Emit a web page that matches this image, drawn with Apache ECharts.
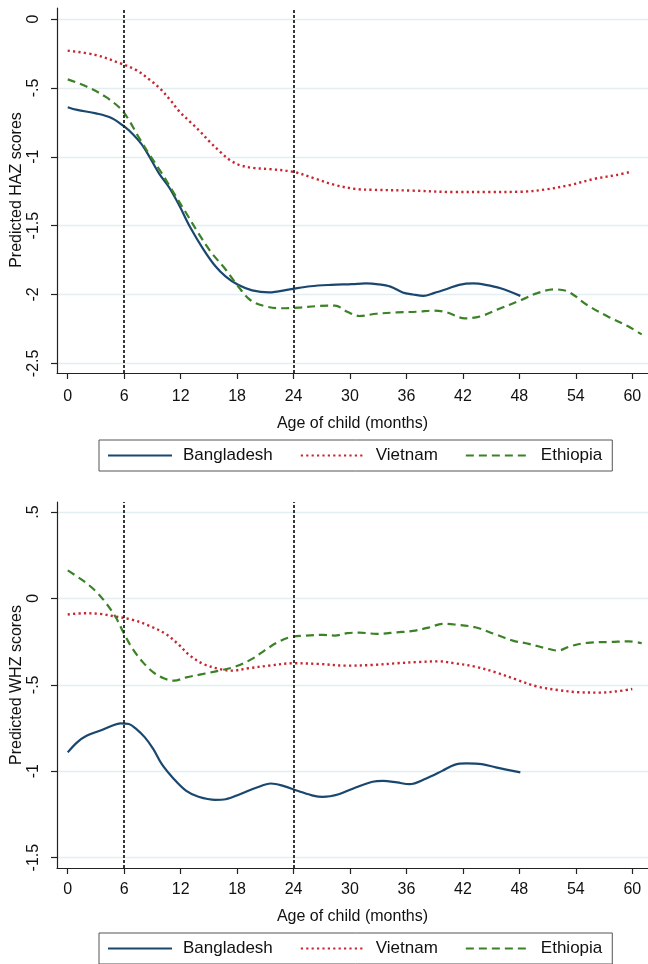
<!DOCTYPE html>
<html>
<head>
<meta charset="utf-8">
<script src="https://cdn.jsdelivr.net/npm/echarts@6/dist/echarts.min.js"></script>
<style>
html,body{margin:0;padding:0;background:#fff;}
#c{width:648px;height:964px;}
</style>
</head>
<body>
<div id="c"></div>
<script>
// ---- data ----
const xTicks = [0, 6, 12, 18, 24, 30, 36, 42, 48, 54, 60];
const hazTicks = [0, -0.5, -1, -1.5, -2, -2.5];
const whzTicks = [0.5, 0, -0.5, -1, -1.5];
const refLines = [6, 24];
const countries = ['Bangladesh', 'Vietnam', 'Ethiopia'];
const yTitles = ['Predicted HAZ scores', 'Predicted WHZ scores'];
const xTitle = 'Age of child (months)';

const hazBangladeshAge = [0,1,3,4.7,6,6.9,7.8,8.6,9.7,10.8,11.9,13,14.4,15.7,16.8,18.1,19.6,21.4,23.6,25.8,28,30.2,31.7,33,34.3,35.6,36.7,37.8,38.9,40.3,41.6,43.1,44.4,46,48.1];
const hazBangladesh = [-0.64,-0.66,-0.685,-0.72,-0.78,-0.835,-0.905,-0.99,-1.12,-1.225,-1.36,-1.51,-1.67,-1.795,-1.87,-1.93,-1.97,-1.985,-1.963,-1.94,-1.93,-1.925,-1.92,-1.926,-1.943,-1.985,-2.0,-2.01,-1.99,-1.96,-1.93,-1.92,-1.93,-1.955,-2.01];

const hazVietnamAge = [0,2.9,5.6,7.3,8.75,9.8,10.9,11.9,13,14.1,15.1,16.2,17.25,18.3,19.7,21.5,24,26.2,28.4,30.6,32.4,36.7,41.1,44.6,48.2,50.8,53.4,56,58.3,59.8];
const hazVietnam = [-0.23,-0.26,-0.322,-0.371,-0.443,-0.504,-0.589,-0.674,-0.746,-0.819,-0.892,-0.964,-1.025,-1.061,-1.081,-1.09,-1.11,-1.157,-1.205,-1.234,-1.24,-1.246,-1.256,-1.256,-1.254,-1.237,-1.205,-1.16,-1.133,-1.11];

const hazEthiopiaAge = [0,2,4,5.6,6.5,7.3,8.6,10,11.3,12.6,13.9,15.2,16.8,18.1,19.4,20.9,22.7,24.5,26.6,28.4,29.7,31,32.8,35,37.2,38.9,40.3,42.2,43.8,46,48.2,49.9,51.7,53.2,55.2,57.4,59.6,61];
const hazEthiopia = [-0.438,-0.49,-0.564,-0.65,-0.733,-0.83,-0.975,-1.12,-1.266,-1.41,-1.556,-1.69,-1.82,-1.94,-2.04,-2.084,-2.1,-2.095,-2.084,-2.081,-2.125,-2.156,-2.14,-2.13,-2.125,-2.117,-2.13,-2.173,-2.16,-2.1,-2.04,-1.99,-1.963,-1.98,-2.076,-2.16,-2.233,-2.29];

const whzBangladeshAge = [0,1,2,3.4,4.7,5.6,6.5,7.3,8.2,9.1,10,11.3,12.6,13.9,15.7,16.8,18.3,20.1,21.6,22.9,24.5,26.2,27.1,28.8,30.6,32.4,33.5,35,36.3,38.1,39.8,41.1,42.4,44,45.5,48.1];
const whzBangladesh = [-0.891,-0.833,-0.795,-0.766,-0.737,-0.723,-0.727,-0.756,-0.804,-0.872,-0.959,-1.046,-1.114,-1.148,-1.166,-1.162,-1.133,-1.094,-1.071,-1.085,-1.114,-1.143,-1.148,-1.133,-1.094,-1.061,-1.056,-1.065,-1.075,-1.042,-0.998,-0.963,-0.955,-0.959,-0.978,-1.007];

const whzVietnamAge = [0,1.6,3.4,5.1,6.9,8.6,10.4,11.7,13,14.4,16.1,17.4,19.2,21.4,24,26.6,29.7,32.4,35,37.2,39.4,41.1,43.3,45.5,47.7,49.9,52.1,54.3,56.5,58.3,60];
const whzVietnam = [-0.093,-0.086,-0.089,-0.105,-0.124,-0.157,-0.205,-0.263,-0.331,-0.379,-0.408,-0.418,-0.404,-0.389,-0.375,-0.379,-0.389,-0.385,-0.375,-0.368,-0.364,-0.375,-0.395,-0.428,-0.47,-0.51,-0.53,-0.543,-0.545,-0.538,-0.524];

const whzEthiopiaAge = [0,1.6,2.9,4,5.1,6,6.9,8,9.1,10.2,11.3,12.6,14.4,16.1,17.9,19.6,20.9,22.3,23.6,25.3,27.1,28.4,29.7,31,32.8,35,36.7,38.5,39.8,41.1,43.3,45.5,47.3,49,50.8,52.1,53.4,55.2,57.8,59.6,61];
const whzEthiopia = [0.162,0.104,0.046,-0.022,-0.109,-0.205,-0.292,-0.37,-0.428,-0.462,-0.476,-0.457,-0.437,-0.418,-0.393,-0.35,-0.302,-0.254,-0.225,-0.215,-0.211,-0.215,-0.201,-0.198,-0.205,-0.196,-0.188,-0.167,-0.147,-0.151,-0.167,-0.209,-0.244,-0.263,-0.288,-0.302,-0.277,-0.257,-0.252,-0.248,-0.259];

// ---- styles ----
const FONT = "'Liberation Sans', Arial, sans-serif";
const colors = {Bangladesh:'#1a476f', Vietnam:'#c8262f', Ethiopia:'#3b8226'};
const lineStyles = {
  Bangladesh:{color:colors.Bangladesh, width:2.2, type:'solid'},
  Vietnam:{color:colors.Vietnam, width:2.4, type:[2.2,3.2], cap:'butt'},
  Ethiopia:{color:colors.Ethiopia, width:2.2, type:[8,5], cap:'butt'}
};

function zip(a, b){ return a.map((x,i)=>[x,b[i]]); }
function fmtY(v){
  if (Math.abs(v) < 1e-9) return '0';
  const s = String(Math.abs(v)).replace(/^0/, '');
  return (v < 0 ? '-' : '') + s;
}

function xAxisCfg(gi, gap, margin){
  return {
    type:'value', gridIndex:gi, min:-1.14, max:61.67,
    name:xTitle, nameLocation:'middle', nameGap:gap,
    nameTextStyle:{fontFamily:FONT, fontSize:16, color:'#111'},
    axisLine:{show:true, onZero:false, lineStyle:{color:'#222', width:1.2}},
    axisTick:{show:true, length:6, customValues:xTicks, lineStyle:{color:'#222', width:1.2}},
    axisLabel:{customValues:xTicks, fontFamily:FONT, fontSize:16, color:'#111', margin:margin},
    splitLine:{show:false}
  };
}
function yAxisCfg(gi, min, max, ticks){
  return {
    type:'value', gridIndex:gi, min:min, max:max,
    axisLine:{show:true, onZero:false, lineStyle:{color:'#222', width:1.2}},
    axisTick:{show:true, length:6, customValues:ticks, lineStyle:{color:'#222', width:1.2}},
    axisLabel:{customValues:ticks, rotate:90, fontFamily:FONT, fontSize:16, color:'#111', margin:15, formatter:fmtY},
    splitLine:{show:true, lineStyle:{color:'#e3eef3', width:1.3}}
  };
}

function seriesFor(gi, data){
  const out = [];
  countries.forEach((c, k)=>{
    out.push({
      name:c, type:'line', xAxisIndex:gi, yAxisIndex:gi,
      data:data[k], smooth:0.35, showSymbol:false, symbol:'none',
      lineStyle:lineStyles[c], itemStyle:{color:colors[c]}, z:3,
      markLine: k===0 ? {
        silent:true, symbol:'none', label:{show:false},
        lineStyle:{color:'#222', width:1.8, type:[3,2]},
        data: refLines.map(v=>({xAxis:v}))
      } : undefined
    });
  });
  return out;
}

function legendCfg(top){
  return {
    top:top, left:99, width:510,
    data:countries, orient:'horizontal',
    itemWidth:64, itemHeight:14, itemGap:27,
    padding:[7,10,7,8],
    borderColor:'#555', borderWidth:1, backgroundColor:'#fff',
    itemStyle:{opacity:0},
    textStyle:{fontFamily:FONT, fontSize:17, color:'#111', padding:[0,0,0,6]},
    selectedMode:false
  };
}
function yTitleGraphic(text, cy){
  return {
    type:'text', x:17, y:cy, rotation:Math.PI/2, silent:true,
    style:{text:text, fontFamily:FONT, fontSize:16, fill:'#111', align:'center', verticalAlign:'middle'}
  };
}

const chart = echarts.init(document.getElementById('c'), null, {renderer:'canvas'});
chart.setOption({
  backgroundColor:'#fff',
  animation:false,
  grid:[
    {left:57, top:8, right:0, height:365, outerBoundsMode:'none', containLabel:false},
    {left:57, top:502, right:0, height:366, outerBoundsMode:'none', containLabel:false}
  ],
  xAxis:[xAxisCfg(0, 43, 16), xAxisCfg(1, 41, 14)],
  yAxis:[
    yAxisCfg(0, -2.57, 0.08, hazTicks),
    yAxisCfg(1, -1.56, 0.558, whzTicks)
  ],
  graphic:[yTitleGraphic(yTitles[0], 190), yTitleGraphic(yTitles[1], 685)],
  legend:[legendCfg(440), legendCfg(933)],
  series:[].concat(
    seriesFor(0, [zip(hazBangladeshAge, hazBangladesh), zip(hazVietnamAge, hazVietnam), zip(hazEthiopiaAge, hazEthiopia)]),
    seriesFor(1, [zip(whzBangladeshAge, whzBangladesh), zip(whzVietnamAge, whzVietnam), zip(whzEthiopiaAge, whzEthiopia)])
  )
});
</script>
</body>
</html>
